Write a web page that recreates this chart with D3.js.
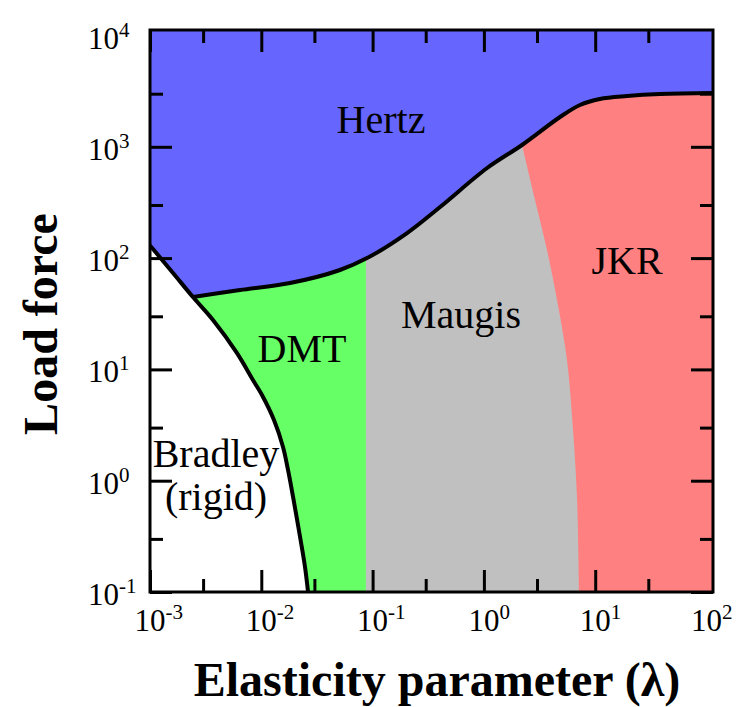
<!DOCTYPE html>
<html>
<head>
<meta charset="utf-8">
<script src="https://cdn.jsdelivr.net/npm/d3@7"></script>
</head>
<body style="margin:0">
<svg width="745" height="707"></svg>
<script>
const WIDTH = 745
const HEIGHT = 707
const FONT = '"Times New Roman", "Liberation Serif", Tinos, serif'

// upper black line: Hertz above, DMT / Maugis / JKR below
const hertzX = [0.00243, 0.00644, 0.0181, 0.0509, 0.0891, 0.204, 0.404, 1.07, 2.20, 4.83, 7.30, 11.0, 19.3, 38.2, 114]
const hertzY = [44.7, 51.7, 59.7, 78.2, 100, 168, 288, 645, 1038, 1852, 2375, 2690, 2860, 2980, 3040]

// lower black line: Bradley (rigid) limit
const bradleyX = [0.001, 0.00161, 0.00243, 0.00368, 0.00605, 0.00841, 0.01014, 0.0130, 0.01567, 0.01738, 0.01929, 0.0223, 0.0247, 0.0263]
const bradleyY = [130, 73.5, 44.7, 27.8, 14.0, 8.03, 5.89, 3.51, 2.01, 1.25, 0.715, 0.312, 0.168, 0.1]

// DMT | Maugis edge (straight)
const dmtEdge = 0.087

// Maugis | JKR edge
const jkrX = [2.20, 2.88, 3.69, 4.54, 5.58, 6.32, 6.86, 7.15]
const jkrY = [1038, 333, 118, 42.0, 12.1, 2.86, 0.715, 0.1]

const majorTicksX = [1e-3, 1e-2, 1e-1, 1e0, 1e1, 1e2]
const minorTicksX = [3e-3, 3e-2, 3e-1, 3e0, 3e1]
const majorTicksY = [1e-1, 1e0, 1e1, 1e2, 1e3, 1e4]
const minorTicksY = [3e-1, 3e0, 3e1, 3e2, 3e3]

const regionNames = ["Hertz", "DMT", "Maugis", "JKR", "Bradley", "(rigid)"]
const regionPos = [[381, 133], [302, 362], [461, 328], [627, 274], [216, 467], [216, 510]]

const PLOT = {left: 150, right: 713, top: 30, bottom: 592}

const x = d3.scaleLog().domain([1e-3, 1e2]).range([150, 706.5])
const y = d3.scaleLog().domain([1e-1, 1e4]).range([592, 35.5])

const svg = d3.select("svg")

svg.append("defs").append("clipPath").attr("id", "plotClip")
    .append("rect")
    .attr("x", PLOT.left).attr("y", PLOT.top)
    .attr("width", PLOT.right - PLOT.left).attr("height", PLOT.bottom - PLOT.top)

const hertzPts = hertzX.map((d, i) => [d, hertzY[i]])
const bradleyPts = bradleyX.map((d, i) => [d, bradleyY[i]])
const jkrPts = jkrX.map((d, i) => [d, jkrY[i]])

const line = d3.line().x(d => x(d[0])).y(d => y(d[1])).curve(d3.curveCatmullRom)
const belowHertz = d3.area().x(d => x(d[0])).y0(PLOT.bottom).y1(d => y(d[1])).curve(d3.curveCatmullRom)

// everything under the upper black line
const under = svg.select("defs").append("clipPath").attr("id", "underClip")
under.append("path").attr("d", belowHertz(hertzPts))
under.append("rect")
    .attr("x", PLOT.left).attr("y", y(hertzY[0]))
    .attr("width", x(hertzX[0]) - PLOT.left + 1).attr("height", PLOT.bottom - y(hertzY[0]))

const plot = svg.append("g").attr("clip-path", "url(#plotClip)")

// Hertz
plot.append("rect")
    .attr("x", PLOT.left).attr("y", PLOT.top)
    .attr("width", PLOT.right - PLOT.left).attr("height", PLOT.bottom - PLOT.top)
    .attr("fill", "#6666ff")

const lower = plot.append("g").attr("clip-path", "url(#underClip)")

// Maugis
lower.append("rect")
    .attr("x", PLOT.left).attr("y", PLOT.top)
    .attr("width", PLOT.right - PLOT.left).attr("height", PLOT.bottom - PLOT.top)
    .attr("fill", "#c0c0c0")

// DMT
lower.append("rect")
    .attr("x", PLOT.left).attr("y", PLOT.top)
    .attr("width", x(dmtEdge) - PLOT.left).attr("height", PLOT.bottom - PLOT.top)
    .attr("fill", "#66ff66")

// JKR
lower.append("path")
    .attr("d", line(jkrPts) + `L${PLOT.right},${PLOT.bottom}L${PLOT.right},${PLOT.top}L${x(jkrX[0])},${PLOT.top}Z`)
    .attr("fill", "#ff8080")

// Bradley (rigid)
plot.append("path")
    .attr("d", line(bradleyPts) + `L${PLOT.left},${PLOT.bottom}Z`)
    .attr("fill", "#fff")

plot.append("path")
    .attr("d", line(bradleyPts))
    .attr("fill", "none").attr("stroke", "#000").attr("stroke-width", 4)

plot.append("path")
    .attr("d", line(hertzPts))
    .attr("fill", "none").attr("stroke", "#000").attr("stroke-width", 4)

// ticks on all four sides, pointing in
const tickAxis = (axis, values, len, transform) => {
    svg.append("g")
        .attr("transform", transform)
        .call(axis.tickValues(values).tickSize(-len).tickFormat(""))
        .call(g => g.select(".domain").remove())
        .call(g => g.selectAll("line").attr("stroke", "#000").attr("stroke-width", 3))
}
const xMajor = majorTicksX.slice(0, -1)
const yMajor = majorTicksY.slice(0, -1)
tickAxis(d3.axisBottom(x), xMajor, 22, `translate(0,${PLOT.bottom})`)
tickAxis(d3.axisBottom(x), minorTicksX, 13, `translate(0,${PLOT.bottom})`)
tickAxis(d3.axisTop(x), xMajor, 22, `translate(0,${PLOT.top})`)
tickAxis(d3.axisTop(x), minorTicksX, 13, `translate(0,${PLOT.top})`)
tickAxis(d3.axisLeft(y), yMajor, 22, `translate(${PLOT.left},0)`)
tickAxis(d3.axisLeft(y), minorTicksY, 13, `translate(${PLOT.left},0)`)
tickAxis(d3.axisRight(y), yMajor, 22, `translate(${PLOT.right},0)`)
tickAxis(d3.axisRight(y), minorTicksY, 13, `translate(${PLOT.right},0)`)

svg.append("rect")
    .attr("x", PLOT.left).attr("y", PLOT.top)
    .attr("width", PLOT.right - PLOT.left).attr("height", PLOT.bottom - PLOT.top)
    .attr("fill", "none").attr("stroke", "#000").attr("stroke-width", 3)

// power-of-ten tick labels
const powerLabel = function(d) {
    const t = d3.select(this)
    t.append("tspan").style("font-family", FONT).text("10")
    t.append("tspan").style("font-family", FONT)
        .attr("dy", -12).attr("font-size", 21).text(Math.round(Math.log10(d)))
}

svg.append("g").selectAll("text")
    .data(majorTicksX)
    .join("text")
    .attr("x", d => x(d) - 15.5)
    .attr("y", 631)
    .attr("font-size", 31)
    .style("font-family", FONT)
    .each(powerLabel)

svg.append("g").selectAll("text")
    .data(majorTicksY)
    .join("text")
    .attr("x", 88)
    .attr("y", d => y(d) + 13)
    .attr("font-size", 31)
    .style("font-family", FONT)
    .each(powerLabel)

// region names
svg.append("g").selectAll("text")
    .data(regionNames)
    .join("text")
    .attr("x", (d, i) => regionPos[i][0])
    .attr("y", (d, i) => regionPos[i][1])
    .attr("text-anchor", "middle")
    .attr("font-size", 40)
    .style("font-family", FONT)
    .text(d => d)

svg.append("text")
    .attr("x", 437).attr("y", 696)
    .attr("text-anchor", "middle")
    .attr("font-size", 48).attr("font-weight", "bold")
    .style("font-family", FONT)
    .text("Elasticity parameter (\u03bb)")

svg.append("text")
    .attr("transform", "translate(57,324) rotate(-90)")
    .attr("text-anchor", "middle")
    .attr("font-size", 48).attr("font-weight", "bold")
    .style("font-family", FONT)
    .text("Load force")
</script>
</body>
</html>
